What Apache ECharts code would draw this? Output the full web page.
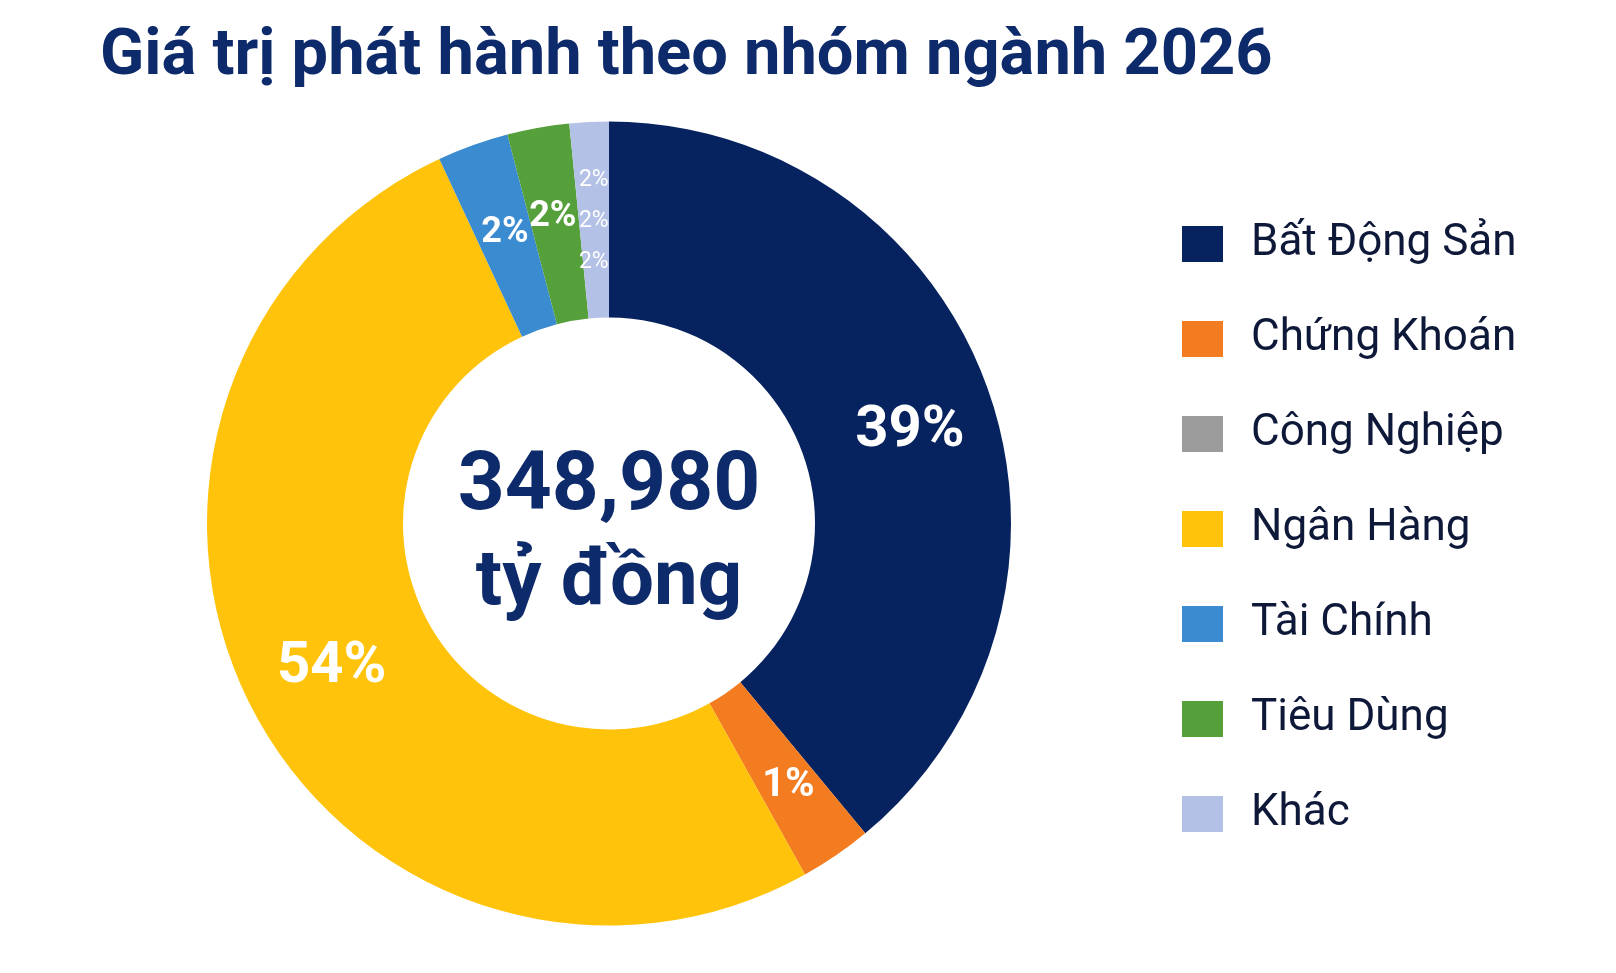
<!DOCTYPE html>
<html lang="vi">
<head>
<meta charset="utf-8">
<title>Giá trị phát hành theo nhóm ngành 2026</title>
<script src="https://cdn.jsdelivr.net/npm/echarts@6/dist/echarts.min.js"></script>
<style>
  html, body { margin: 0; padding: 0; background: #fff; }
  #chart { width: 1616px; height: 973px; }
</style>
</head>
<body>
<div id="chart"></div>
<script>
// nhóm ngành
var categories = ['Bất Động Sản', 'Chứng Khoán', 'Công Nghiệp', 'Ngân Hàng', 'Tài Chính', 'Tiêu Dùng', 'Khác'];
// giá trị phát hành (tỷ đồng), đọc theo độ lớn cung tròn
var values = [136100, 10100, 0, 178580, 10000, 8700, 5500];
// nhãn phần trăm in trên biểu đồ
var percentLabels = ['39%', '1%', '', '54%', '2%', '2%', '2%\n2%\n2%'];
var colors = ['#06235f', '#f47c20', '#9b9b9b', '#ffc30b', '#3a8bd0', '#56a03b', '#b3c1e6'];
var totalText = '348,980';
var unitText = 'tỷ đồng';

var labelSizes = [58, 40, 20, 58, 36, 36, 23];
// dịch nhãn một chút cho giống bản gốc
var labelShift = [[12, 12], [6, 9], [0, 0], [-4, 4], [0, -2], [-2, -4], [0, 4]];

var chart = echarts.init(document.getElementById('chart'));

var data = categories.map(function (name, i) {
  return {
    name: name,
    value: values[i],
    itemStyle: { color: colors[i] },
    label: {
      fontSize: labelSizes[i],
      fontWeight: i === 6 ? 'normal' : 'bold',
      lineHeight: i === 6 ? 41 : labelSizes[i] + 4
    }
  };
});

chart.setOption({
  animation: false,
  backgroundColor: '#ffffff',
  legend: {
    orient: 'vertical',
    left: 1177,
    top: 214,
    itemWidth: 41,
    itemHeight: 36,
    itemGap: 45,
    icon: 'rect',
    selectedMode: false,
    textStyle: {
      fontFamily: 'Roboto',
      fontSize: 44,
      lineHeight: 50,
      color: '#0e1838',
      padding: [0, 0, 0, 23]
    },
    data: categories
  },
  graphic: [
    {
      type: 'text',
      left: 100,
      top: 25,
      style: {
        text: 'Giá trị phát hành theo nhóm ngành 2026',
        font: 'bold 65px Roboto',
        fill: '#0d2a6b'
      }
    },
    {
      type: 'text',
      x: 609,
      y: 488,
      style: {
        text: totalText,
        font: 'bold 82px Roboto',
        fill: '#0d2a6b',
        textAlign: 'center',
        textVerticalAlign: 'middle'
      }
    },
    {
      type: 'text',
      x: 609,
      y: 584,
      style: {
        text: unitText,
        font: 'bold 78px Roboto',
        fill: '#0d2a6b',
        textAlign: 'center',
        textVerticalAlign: 'middle'
      }
    }
  ],
  series: [{
    type: 'pie',
    center: [609, 523.5],
    radius: [206, 402],
    startAngle: 90,
    clockwise: true,
    avoidLabelOverlap: false,
    minAngle: 0,
    label: {
      show: true,
      position: 'inside',
      color: '#ffffff',
      fontFamily: 'Roboto',
      formatter: function (p) { return percentLabels[p.dataIndex]; }
    },
    labelLayout: function (p) {
      return { dx: labelShift[p.dataIndex][0], dy: labelShift[p.dataIndex][1] };
    },
    labelLine: { show: false },
    emphasis: { disabled: true },
    itemStyle: { borderWidth: 0 },
    data: data
  }]
});
</script>
</body>
</html>
